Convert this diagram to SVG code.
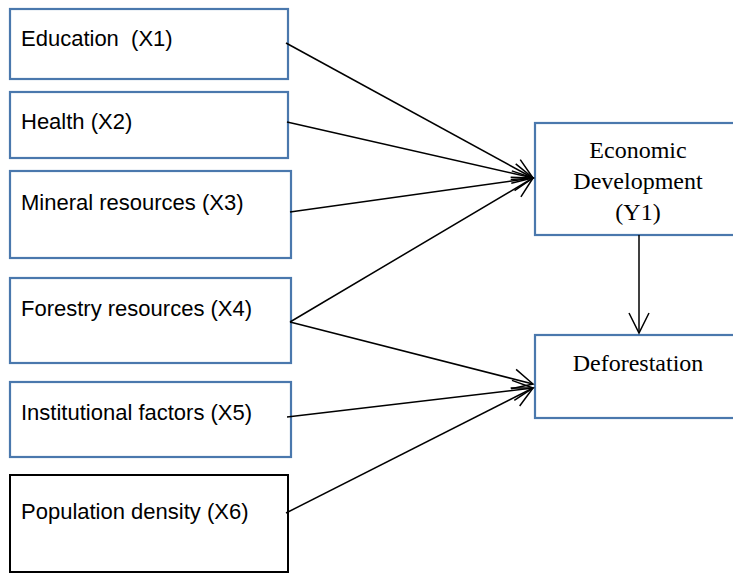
<svg xmlns="http://www.w3.org/2000/svg" width="733" height="573" viewBox="0 0 733 573">
<style>
.box{fill:#fff;stroke:#4A78AD;stroke-width:2.2}
.bk{fill:#fff;stroke:#000;stroke-width:2}
.lab{font-family:"Liberation Sans",Arial,sans-serif;font-size:22px;fill:#000}
.ser{font-family:"Liberation Serif","Times New Roman",serif;font-size:24px;fill:#000;text-anchor:middle}
.con{stroke:#000;stroke-width:1.5;fill:none;marker-end:url(#ah)}
</style>
<defs>
<marker id="ah" markerUnits="userSpaceOnUse" markerWidth="26" markerHeight="26" viewBox="-23 -13 26 26" refX="0" refY="0" orient="auto">
<path d="M-20,-10 L0,0 L-20,10" fill="none" stroke="#000" stroke-width="1.5"/>
</marker>
</defs>
<g id="x1"><rect class="box" x="10" y="9" width="278" height="70"/><text class="lab" x="21" y="46" xml:space="preserve">Education  (X1)</text></g>
<g id="x2"><rect class="box" x="10" y="92" width="278" height="66"/><text class="lab" x="21" y="129">Health (X2)</text></g>
<g id="x3"><rect class="box" x="10" y="171" width="281" height="87"/><text class="lab" x="21" y="210">Mineral resources (X3)</text></g>
<g id="x4"><rect class="box" x="10" y="278" width="281" height="85"/><text class="lab" x="21" y="316">Forestry resources (X4)</text></g>
<g id="x5"><rect class="box" x="10" y="382" width="281" height="75"/><text class="lab" x="21" y="420">Institutional factors (X5)</text></g>
<g id="x6"><rect class="bk" x="10" y="475" width="278" height="97"/><text class="lab" x="21" y="519">Population density (X6)</text></g>
<g id="y1"><rect class="box" x="535" y="123" width="210" height="112"/><text class="ser" x="638" y="158">Economic</text><text class="ser" x="638" y="189">Development</text><text class="ser" x="638" y="220">(Y1)</text></g>
<g id="def"><rect class="box" x="535" y="335" width="210" height="83"/><text class="ser" x="638" y="371">Deforestation</text></g>
<g id="connectors">
<line class="con" x1="286" y1="43" x2="533" y2="178"/>
<line class="con" x1="287" y1="122" x2="533" y2="178"/>
<line class="con" x1="290" y1="212" x2="533" y2="178"/>
<line class="con" x1="290" y1="322" x2="533" y2="178"/>
<line class="con" x1="290" y1="322" x2="533" y2="384"/>
<line class="con" x1="287" y1="417" x2="533" y2="388"/>
<line class="con" x1="286" y1="513" x2="533" y2="388"/>
<line class="con" x1="639" y1="235" x2="639" y2="333"/>
</g>
</svg>
